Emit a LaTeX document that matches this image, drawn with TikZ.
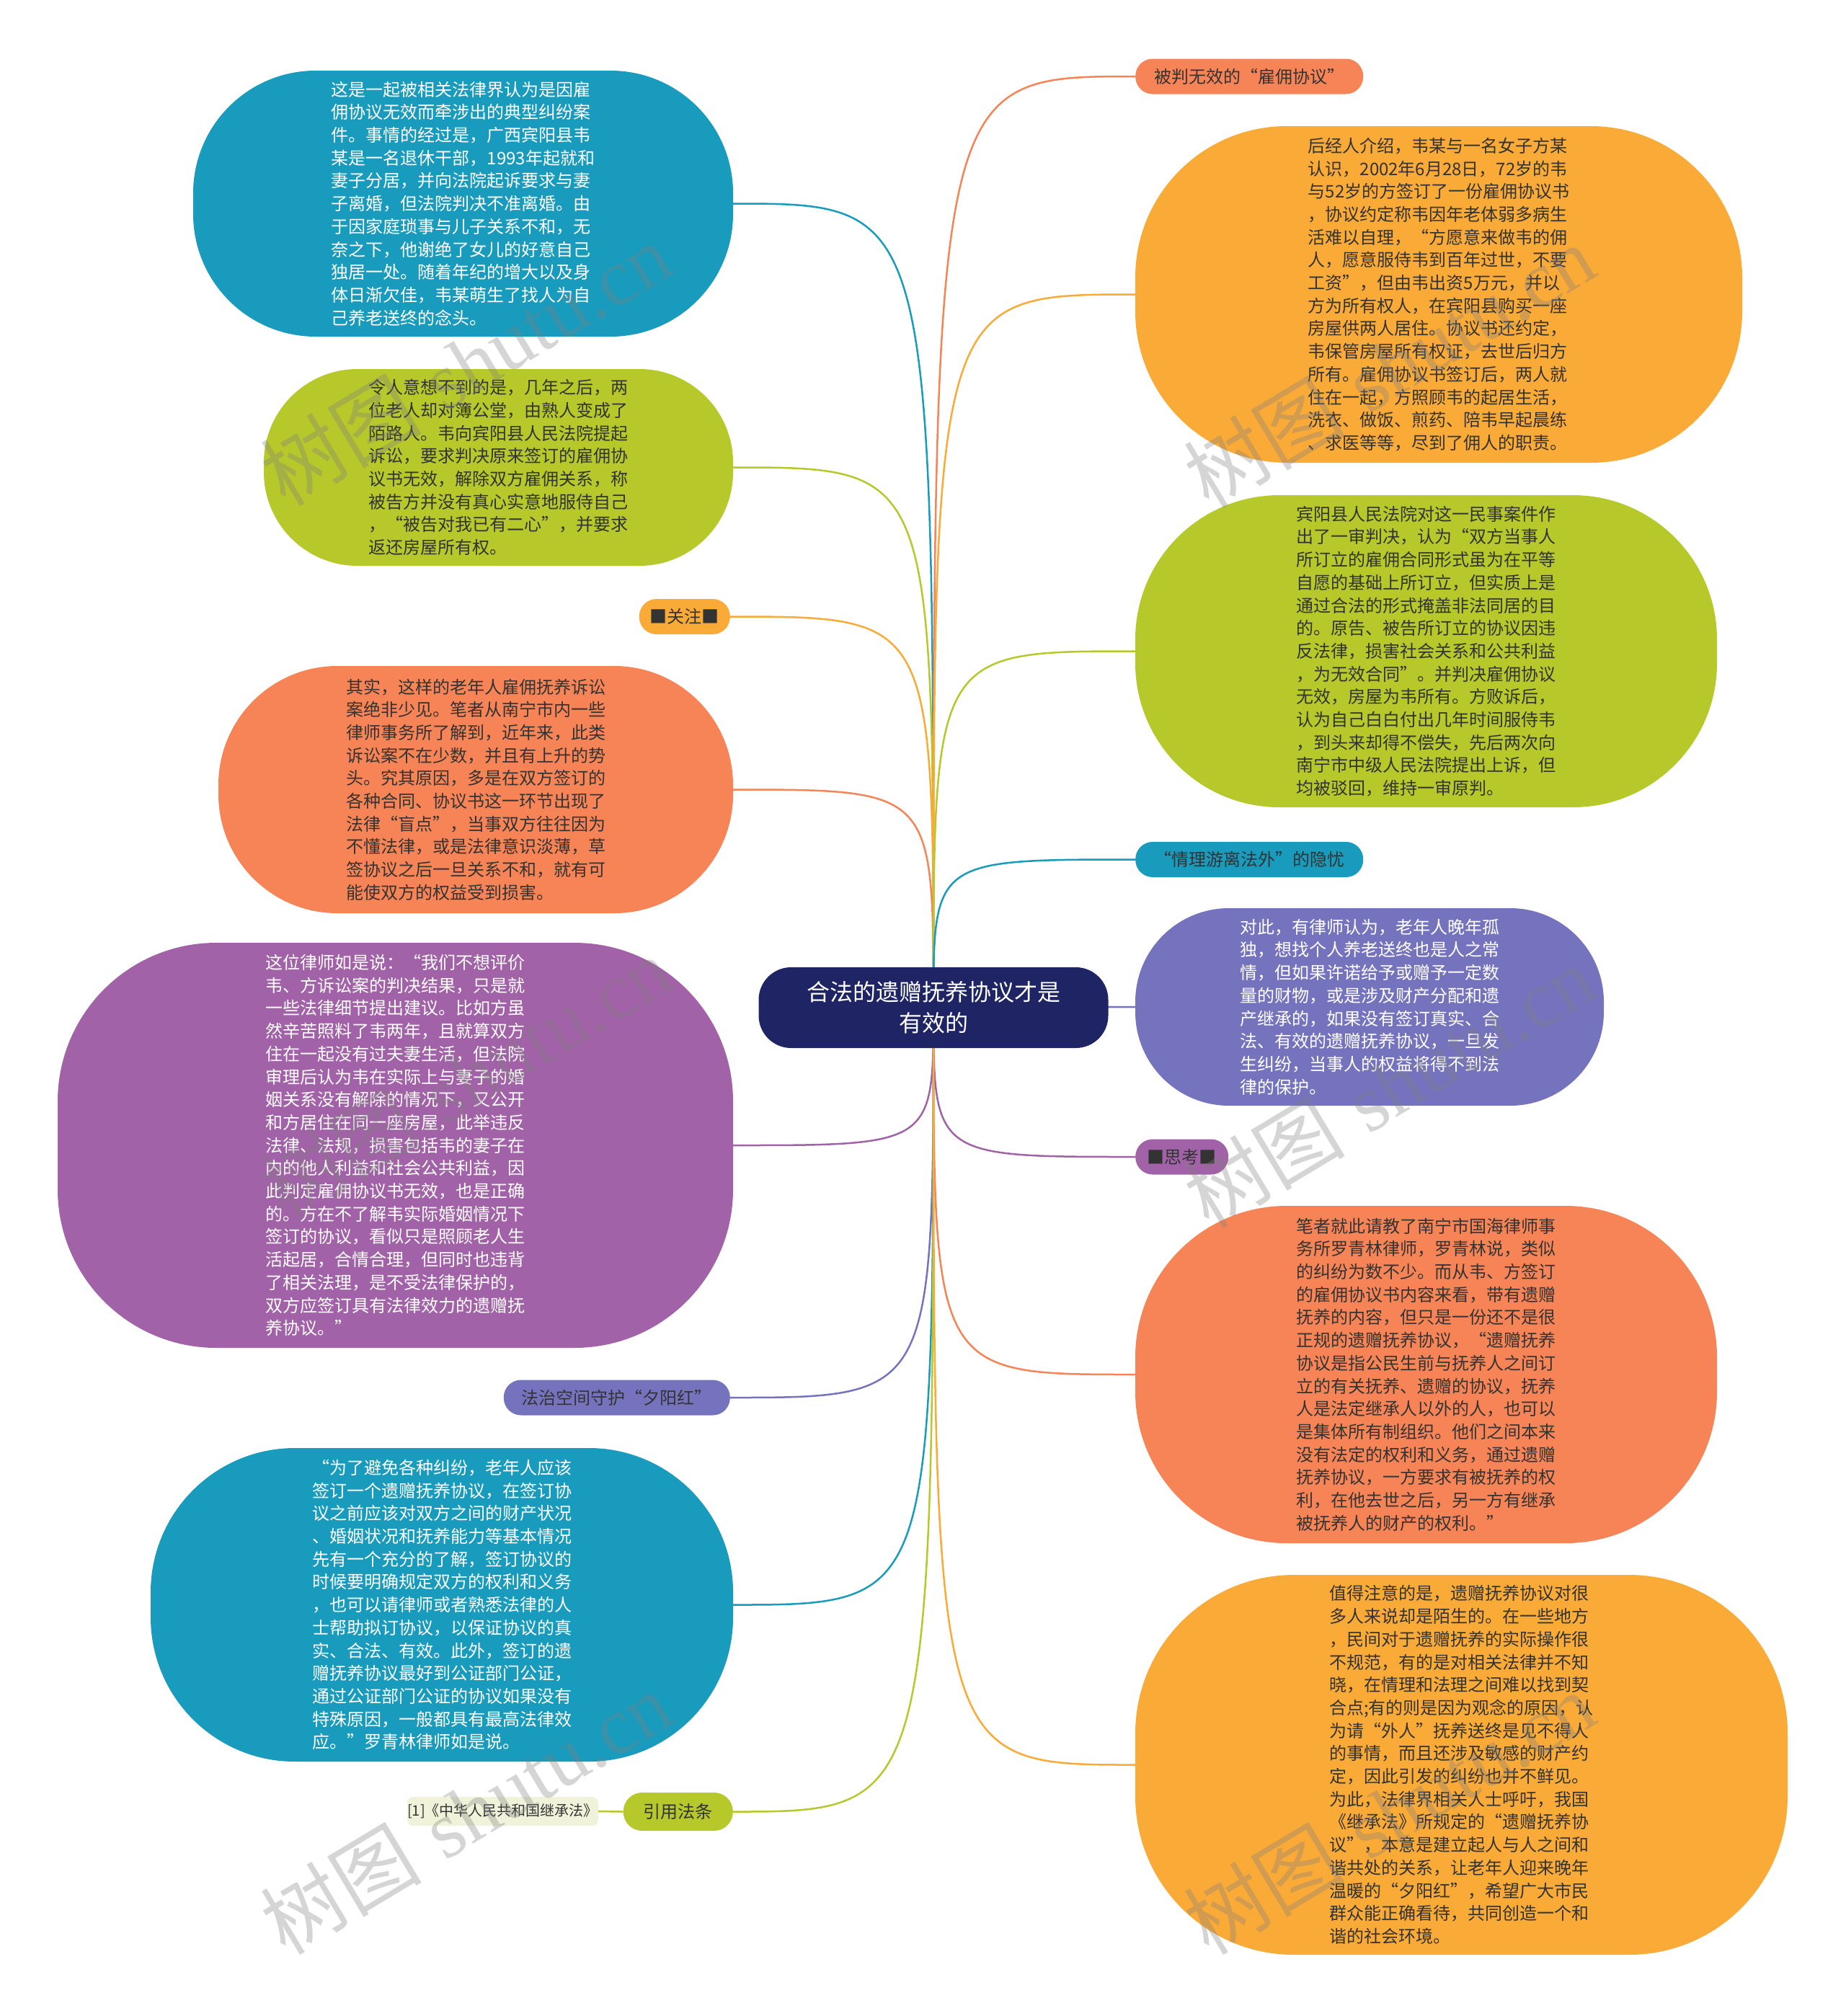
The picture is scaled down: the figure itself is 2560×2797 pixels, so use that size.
\documentclass[tikz,border=0pt]{standalone}
\usepackage{fontspec}
\newfontfamily\cjk{Noto Sans CJK SC}
\newfontfamily\wmserif{Liberation Serif}
\usetikzlibrary{backgrounds}
\definecolor{cteal}{RGB}{24,155,188}
\definecolor{cgreen}{RGB}{182,200,42}
\definecolor{ccoral}{RGB}{246,132,86}
\definecolor{camber}{RGB}{250,170,55}
\definecolor{cpurple}{RGB}{162,98,168}
\definecolor{cblue}{RGB}{117,115,190}
\definecolor{cnavy}{RGB}{30,36,100}
\definecolor{crefbg}{RGB}{240,243,218}
\definecolor{darktext}{RGB}{51,51,51}
\begin{document}
\begin{tikzpicture}[x=1pt,y=-1pt,
  bodyfont/.style={font=\cjk\fontsize{24}{31.7}\selectfont},
  bigbox/.style={bodyfont, rectangle, inner sep=0pt, align=left},
  tag/.style={bodyfont, rectangle, inner sep=0pt, rounded corners=24pt, minimum height=49pt, text=darktext, align=center},
  link/.style={line width=2.5pt},
  wm/.style={rotate=31, text=gray, opacity=0.33, font=\fontsize{112}{116}\selectfont},
]
\useasboundingbox (0,0) rectangle (2560,2797);

% centre
\node[rectangle, fill=cnavy, text=white, rounded corners=45pt, minimum width=485pt, minimum height=112pt, align=center, inner sep=0pt, font=\cjk\fontsize{32}{43}\selectfont] (C) at (1295,1398) {合法的遗赠抚养协议才是\\有效的};

% left side
\node[bigbox, fill=cteal, text=white, minimum width=749pt, minimum height=369pt, rounded corners=170pt] (L1) at (642.5,282.5) {这是一起被相关法律界认为是因雇\\佣协议无效而牵涉出的典型纠纷案\\件。事情的经过是，广西宾阳县韦\\某是一名退休干部，1993年起就和\\妻子分居，并向法院起诉要求与妻\\子离婚，但法院判决不准离婚。由\\于因家庭琐事与儿子关系不和，无\\奈之下，他谢绝了女儿的好意自己\\独居一处。随着年纪的增大以及身\\体日渐欠佳，韦某萌生了找人为自\\己养老送终的念头。};

\node[bigbox, fill=cgreen, text=darktext, minimum width=651pt, minimum height=273pt, rounded corners=130pt] (L2) at (691.5,648.5) {令人意想不到的是，几年之后，两\\位老人却对簿公堂，由熟人变成了\\陌路人。韦向宾阳县人民法院提起\\诉讼，要求判决原来签订的雇佣协\\议书无效，解除双方雇佣关系，称\\被告方并没有真心实意地服侍自己\\，“被告对我已有二心”，并要求\\返还房屋所有权。};

\node[tag, fill=camber, minimum width=126pt, anchor=east] (L3) at (1013,855.5) {■关注■};

\node[bigbox, fill=ccoral, text=darktext, minimum width=714pt, minimum height=343pt, rounded corners=165pt] (L4) at (660,1095.5) {其实，这样的老年人雇佣抚养诉讼\\案绝非少见。笔者从南宁市内一些\\律师事务所了解到，近年来，此类\\诉讼案不在少数，并且有上升的势\\头。究其原因，多是在双方签订的\\各种合同、协议书这一环节出现了\\法律“盲点”，当事双方往往因为\\不懂法律，或是法律意识淡薄，草\\签协议之后一旦关系不和，就有可\\能使双方的权益受到损害。};

\node[bigbox, fill=cpurple, text=white, minimum width=937pt, minimum height=562pt, rounded corners=220pt] (L5) at (548.5,1589) {这位律师如是说：“我们不想评价\\韦、方诉讼案的判决结果，只是就\\一些法律细节提出建议。比如方虽\\然辛苦照料了韦两年，且就算双方\\住在一起没有过夫妻生活，但法院\\审理后认为韦在实际上与妻子的婚\\姻关系没有解除的情况下，又公开\\和方居住在同一座房屋，此举违反\\法律、法规，损害包括韦的妻子在\\内的他人利益和社会公共利益，因\\此判定雇佣协议书无效，也是正确\\的。方在不了解韦实际婚姻情况下\\签订的协议，看似只是照顾老人生\\活起居，合情合理，但同时也违背\\了相关法理，是不受法律保护的，\\双方应签订具有法律效力的遗赠抚\\养协议。”};

\node[tag, fill=cblue, minimum width=314pt, anchor=east] (L6) at (1013,1939) {法治空间守护“夕阳红”};

\node[bigbox, fill=cteal, text=white, minimum width=808pt, minimum height=435pt, rounded corners=200pt] (L7) at (613,2226.5) {“为了避免各种纠纷，老年人应该\\签订一个遗赠抚养协议，在签订协\\议之前应该对双方之间的财产状况\\、婚姻状况和抚养能力等基本情况\\先有一个充分的了解，签订协议的\\时候要明确规定双方的权利和义务\\，也可以请律师或者熟悉法律的人\\士帮助拟订协议，以保证协议的真\\实、合法、有效。此外，签订的遗\\赠抚养协议最好到公证部门公证，\\通过公证部门公证的协议如果没有\\特殊原因，一般都具有最高法律效\\应。”罗青林律师如是说。};

\node[tag, fill=cgreen, minimum width=152pt, minimum height=53pt, rounded corners=26pt, anchor=east] (L8) at (1017,2513.5) {引用法条};

\node[rectangle, fill=crefbg, text=darktext, rounded corners=8pt, minimum width=263pt, minimum height=40pt, inner sep=0pt, font=\cjk\fontsize{20}{24}\selectfont, anchor=east] (REF) at (830,2513) {[1]《中华人民共和国继承法》};

% right side
\node[tag, fill=ccoral, minimum width=316pt, anchor=west] (R1) at (1575,106) {被判无效的“雇佣协议”};

\node[bigbox, fill=camber, text=darktext, minimum width=842pt, minimum height=467pt, rounded corners=210pt] (R2) at (1996,408.5) {后经人介绍，韦某与一名女子方某\\认识，2002年6月28日，72岁的韦\\与52岁的方签订了一份雇佣协议书\\，协议约定称韦因年老体弱多病生\\活难以自理，“方愿意来做韦的佣\\人，愿意服侍韦到百年过世，不要\\工资”，但由韦出资5万元，并以\\方为所有权人，在宾阳县购买一座\\房屋供两人居住。协议书还约定，\\韦保管房屋所有权证，去世后归方\\所有。雇佣协议书签订后，两人就\\住在一起，方照顾韦的起居生活，\\洗衣、做饭、煎药、陪韦早起晨练\\、求医等等，尽到了佣人的职责。};

\node[bigbox, fill=cgreen, text=darktext, minimum width=807pt, minimum height=433pt, rounded corners=200pt] (R3) at (1978.5,903.5) {宾阳县人民法院对这一民事案件作\\出了一审判决，认为“双方当事人\\所订立的雇佣合同形式虽为在平等\\自愿的基础上所订立，但实质上是\\通过合法的形式掩盖非法同居的目\\的。原告、被告所订立的协议因违\\反法律，损害社会关系和公共利益\\，为无效合同”。并判决雇佣协议\\无效，房屋为韦所有。方败诉后，\\认为自己白白付出几年时间服侍韦\\，到头来却得不偿失，先后两次向\\南宁市中级人民法院提出上诉，但\\均被驳回，维持一审原判。};

\node[tag, fill=cteal, minimum width=316pt, anchor=west] (R4) at (1575,1192.5) {“情理游离法外”的隐忧};

\node[bigbox, fill=cblue, text=white, minimum width=650pt, minimum height=274pt, rounded corners=130pt] (R5) at (1900,1397) {对此，有律师认为，老年人晚年孤\\独，想找个人养老送终也是人之常\\情，但如果许诺给予或赠予一定数\\量的财物，或是涉及财产分配和遗\\产继承的，如果没有签订真实、合\\法、有效的遗赠抚养协议，一旦发\\生纠纷，当事人的权益将得不到法\\律的保护。};

\node[tag, fill=cpurple, minimum width=129pt, anchor=west] (R6) at (1575,1605) {■思考■};

\node[bigbox, fill=ccoral, text=darktext, minimum width=807pt, minimum height=468pt, rounded corners=210pt] (R7) at (1978.5,1907) {笔者就此请教了南宁市国海律师事\\务所罗青林律师，罗青林说，类似\\的纠纷为数不少。而从韦、方签订\\的雇佣协议书内容来看，带有遗赠\\抚养的内容，但只是一份还不是很\\正规的遗赠抚养协议，“遗赠抚养\\协议是指公民生前与抚养人之间订\\立的有关抚养、遗赠的协议，抚养\\人是法定继承人以外的人，也可以\\是集体所有制组织。他们之间本来\\没有法定的权利和义务，通过遗赠\\抚养协议，一方要求有被抚养的权\\利，在他去世之后，另一方有继承\\被抚养人的财产的权利。”};

\node[bigbox, fill=camber, text=darktext, minimum width=905pt, minimum height=527pt, rounded corners=220pt] (R8) at (2027.5,2448.5) {值得注意的是，遗赠抚养协议对很\\多人来说却是陌生的。在一些地方\\，民间对于遗赠抚养的实际操作很\\不规范，有的是对相关法律并不知\\晓，在情理和法理之间难以找到契\\合点;有的则是因为观念的原因，认\\为请“外人”抚养送终是见不得人\\的事情，而且还涉及敏感的财产约\\定，因此引发的纠纷也并不鲜见。\\为此，法律界相关人士呼吁，我国\\《继承法》所规定的“遗赠抚养协\\议”，本意是建立起人与人之间和\\谐共处的关系，让老年人迎来晚年\\温暖的“夕阳红”，希望广大市民\\群众能正确看待，共同创造一个和\\谐的社会环境。};

% connectors
\begin{scope}[on background layer]
\fill[white] (0,0) rectangle (2560,2797);
\foreach \n/\c in {L1/cteal,L2/cgreen,L3/camber,L4/ccoral,L5/cpurple,L6/cblue,L7/cteal,L8/cgreen}
  \draw[link,\c] (C.center) .. controls (C.center |- \n.east) .. (\n.east);
\foreach \n/\c in {R1/ccoral,R2/camber,R3/cgreen,R4/cteal,R5/cblue,R6/cpurple,R7/ccoral,R8/camber}
  \draw[link,\c] (C.center) .. controls (C.center |- \n.west) .. (\n.west);
\draw[link,cgreen] (REF.east) -- (L8.west);
\end{scope}

% watermarks
\node[wm] (W1) at (646,505) {{\cjk 树图} {\wmserif shutu.cn}};
\node[wm] (W2) at (1927,508) {{\cjk 树图} {\wmserif shutu.cn}};
\node[wm] (W3) at (646,1495) {{\cjk 树图} {\wmserif shutu.cn}};
\node[wm] (W4) at (1927,1507) {{\cjk 树图} {\wmserif shutu.cn}};
\node[wm] (W5) at (646,2515) {{\cjk 树图} {\wmserif shutu.cn}};
\node[wm] (W6) at (1927,2515) {{\cjk 树图} {\wmserif shutu.cn}};
\end{tikzpicture}
\end{document}
